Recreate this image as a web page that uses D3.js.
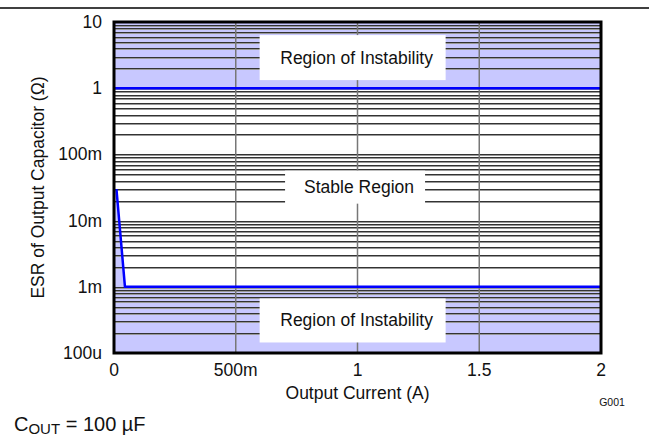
<!DOCTYPE html>
<html>
<head>
<meta charset="utf-8">
<script src="https://cdn.jsdelivr.net/npm/d3@7"></script>
<style>
  body { margin: 0; background: #fff; }
  text { font-family: "Liberation Sans", Arial, sans-serif; fill: #111; }
</style>
</head>
<body>
<div id="chart"></div>
<script>
// data
var currentA = [0.01, 0.045, 2];          // Output Current (A)
var esrLower = [0.03, 0.001, 0.001];      // lower stability boundary (ohm)
var esrUpper = [1, 1];                    // upper stability boundary (ohm)
var upperX = [0, 2];
var xTicks = [0, 0.5, 1, 1.5, 2];
var xTickLabels = ["0", "500m", "1", "1.5", "2"];
var yTicks = [1e-4, 1e-3, 1e-2, 1e-1, 1, 10];
var yTickLabels = ["100u", "1m", "10m", "100m", "1", "10"];

var svgWidth = 649;
var svgHeight = 437;

var margin = { top: 22, right: 48, bottom: 84, left: 114 };
var chartWidth = svgWidth - margin.left - margin.right;
var chartHeight = svgHeight - margin.top - margin.bottom;

var svg = d3.select("#chart")
    .append("svg")
    .attr("width", svgWidth)
    .attr("height", svgHeight);

// rule across top
svg.append("line")
    .attr("x1", 0).attr("x2", svgWidth)
    .attr("y1", 8).attr("y2", 8)
    .attr("stroke", "#000").attr("stroke-width", 1.5);

var chartGroup = svg.append("g")
    .attr("transform", `translate(${margin.left}, ${margin.top})`);

var x = d3.scaleLinear().domain([0, 2]).range([0, chartWidth]);
var y = d3.scaleLog().domain([1e-4, 10]).range([chartHeight, 0]);

// unstable regions
chartGroup.append("rect")
    .attr("x", 0).attr("width", chartWidth)
    .attr("y", y(10)).attr("height", y(esrUpper[0]) - y(10))
    .attr("fill", "#c8c8ff");

var lowerPts = currentA.map((c, i) => [c, esrLower[i]]);
var area = d3.area()
    .x(d => x(d[0]))
    .y0(y(1e-4))
    .y1(d => y(d[1]));
chartGroup.append("path")
    .datum([[0, esrLower[0]]].concat(lowerPts))
    .attr("d", area)
    .attr("fill", "#c8c8ff");

// horizontal minor grid (each line has a grey shadow)
var minor = [];
for (var e = -4; e < 1; e++) {
    for (var m = 1; m < 10; m++) {
        if (m === 1 && e === -4) continue;
        minor.push(m * Math.pow(10, e));
    }
}
var gridG = chartGroup.append("g");
minor.forEach(function (v) {
    var yy = Math.round(y(v)) + 0.5;
    gridG.append("line")
        .attr("x1", 0).attr("x2", chartWidth)
        .attr("y1", yy).attr("y2", yy)
        .attr("stroke", "#333").attr("stroke-width", 1);
    gridG.append("line")
        .attr("x1", 0).attr("x2", chartWidth)
        .attr("y1", yy + 1).attr("y2", yy + 1)
        .attr("stroke", "#999").attr("stroke-width", 1);
});

// vertical grid
xTicks.slice(1, -1).forEach(function (v) {
    chartGroup.append("line")
        .attr("x1", x(v)).attr("x2", x(v))
        .attr("y1", 0).attr("y2", chartHeight)
        .attr("stroke", "#777").attr("stroke-width", 1.5);
});

// boundary lines
var line = d3.line().x(d => x(d[0])).y(d => y(d[1]));
chartGroup.append("path")
    .datum(upperX.map((c, i) => [c, esrUpper[i]]))
    .attr("d", line)
    .attr("fill", "none").attr("stroke", "#0000ff").attr("stroke-width", 2.5);
chartGroup.append("path")
    .datum(lowerPts)
    .attr("d", line)
    .attr("fill", "none").attr("stroke", "#0000ff").attr("stroke-width", 2.5);

// labels with white boxes
function boxLabel(cx, cy, w, h, txt) {
    chartGroup.append("rect")
        .attr("x", cx - w / 2).attr("y", cy - h / 2)
        .attr("width", w).attr("height", h)
        .attr("fill", "#fff");
    chartGroup.append("text")
        .attr("x", cx + 4).attr("y", cy + 6)
        .attr("text-anchor", "middle")
        .attr("font-size", 17.5)
        .text(txt);
}
boxLabel(x(0.98), y(2.9), 186, 45, "Region of Instability");
boxLabel(x(0.98), y(0.00031), 186, 44, "Region of Instability");
boxLabel(x(0.99), y(0.032), 140, 33, "Stable Region");

// frame
chartGroup.append("rect")
    .attr("width", chartWidth).attr("height", chartHeight)
    .attr("fill", "none").attr("stroke", "#000").attr("stroke-width", 3);

// tick labels
chartGroup.selectAll(".xtick")
    .data(xTicks)
    .enter()
    .append("text")
    .attr("x", d => x(d))
    .attr("y", chartHeight + 23)
    .attr("text-anchor", "middle")
    .attr("font-size", 17.5)
    .text((d, i) => xTickLabels[i]);

chartGroup.selectAll(".ytick")
    .data(yTicks)
    .enter()
    .append("text")
    .attr("x", -12)
    .attr("y", d => y(d) + 6)
    .attr("text-anchor", "end")
    .attr("font-size", 17.5)
    .text((d, i) => yTickLabels[i]);

// axis titles
chartGroup.append("text")
    .attr("transform", "rotate(-90)")
    .attr("x", -chartHeight / 2)
    .attr("y", -70)
    .attr("text-anchor", "middle")
    .attr("font-size", 17.5)
    .text("ESR of Output Capacitor (\u03A9)");

chartGroup.append("text")
    .attr("x", chartWidth / 2)
    .attr("y", chartHeight + 46)
    .attr("text-anchor", "middle")
    .attr("font-size", 17.5)
    .text("Output Current (A)");

svg.append("text")
    .attr("x", 612).attr("y", 406)
    .attr("text-anchor", "middle")
    .attr("font-size", 10.5)
    .text("G001");

var note = svg.append("text")
    .attr("x", 14).attr("y", 431)
    .attr("font-size", 20);
note.append("tspan").text("C");
note.append("tspan").attr("font-size", 15).attr("dy", 3).text("OUT");
note.append("tspan").attr("dy", -3).text(" = 100 \u00B5F");
</script>
</body>
</html>
